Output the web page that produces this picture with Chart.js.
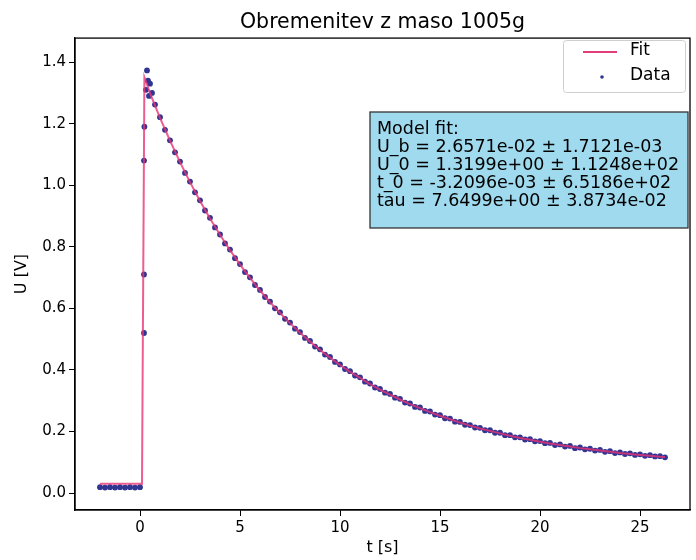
<!DOCTYPE html>
<html>
<head>
<meta charset="utf-8">
<script src="https://cdn.jsdelivr.net/npm/chart.js@4.4.1/dist/chart.umd.min.js"></script>
<style>
  html, body { margin: 0; padding: 0; background: #fff; }
  #wrap { width: 696px; height: 560px; }
</style>
</head>
<body>
<div id="wrap"><canvas id="chart" width="696" height="560"></canvas></div>
<script>
const fitT = [-2, 0.1, 0.22, 0.5, 1, 1.5, 2, 2.5, 3, 3.5, 4, 4.5, 5, 5.5, 6, 6.5, 7, 7.5, 8, 8.5, 9, 9.5, 10,
    10.5, 11, 11.5, 12, 12.5, 13, 13.5, 14, 14.5, 15, 15.5, 16, 16.5, 17, 17.5, 18, 18.5, 19, 19.5, 20,
    20.5, 21, 21.5, 22, 22.5, 23, 23.5, 24, 24.5, 25, 25.5, 26, 26.25];
const fitU = [0.03, 0.03, 1.35, 1.299, 1.219, 1.145, 1.075, 1.010, 0.949, 0.892, 0.839, 0.789, 0.742, 0.699, 0.658,
    0.620, 0.585, 0.552, 0.521, 0.492, 0.465, 0.440, 0.416, 0.394, 0.374, 0.354, 0.336, 0.320, 0.304, 0.289,
    0.276, 0.263, 0.251, 0.240, 0.229, 0.219, 0.210, 0.202, 0.194, 0.186, 0.179, 0.173, 0.167, 0.161, 0.156,
    0.151, 0.146, 0.142, 0.138, 0.134, 0.130, 0.127, 0.124, 0.121, 0.118, 0.117];

const dataT = [-2, -1.75, -1.5, -1.25, -1, -0.75, -0.5, -0.25, 0,
    0.2, 0.2, 0.2, 0.22, 0.3, 0.35, 0.4, 0.45, 0.5, 0.6, 0.75,
    1, 1.25, 1.5, 1.75, 2, 2.25, 2.5, 2.75, 3, 3.25, 3.5, 3.75, 4, 4.25, 4.5, 4.75, 5, 5.25, 5.5, 5.75,
    6, 6.25, 6.5, 6.75, 7, 7.25, 7.5, 7.75, 8, 8.25, 8.5, 8.75, 9, 9.25, 9.5, 9.75, 10, 10.25, 10.5, 10.75,
    11, 11.25, 11.5, 11.75, 12, 12.25, 12.5, 12.75, 13, 13.25, 13.5, 13.75, 14, 14.25, 14.5, 14.75,
    15, 15.25, 15.5, 15.75, 16, 16.25, 16.5, 16.75, 17, 17.25, 17.5, 17.75, 18, 18.25, 18.5, 18.75,
    19, 19.25, 19.5, 19.75, 20, 20.25, 20.5, 20.75, 21, 21.25, 21.5, 21.75, 22, 22.25, 22.5, 22.75,
    23, 23.25, 23.5, 23.75, 24, 24.25, 24.5, 24.75, 25, 25.25, 25.5, 25.75, 26, 26.25];
const dataU = [0.019, 0.018, 0.019, 0.018, 0.019, 0.018, 0.019, 0.018, 0.019,
    0.52, 0.71, 1.08, 1.19, 1.31, 1.373, 1.34, 1.29, 1.33, 1.30, 1.262,
    1.221, 1.18, 1.146, 1.107, 1.077, 1.040, 1.012, 0.977, 0.951, 0.918, 0.894, 0.863, 0.840, 0.811, 0.791, 0.763,
    0.744, 0.718, 0.701, 0.676, 0.660, 0.637, 0.622, 0.600, 0.587, 0.566, 0.554, 0.534, 0.523, 0.504, 0.494, 0.476,
    0.467, 0.450, 0.442, 0.426, 0.418, 0.403, 0.396, 0.382, 0.376, 0.362, 0.356, 0.343, 0.338, 0.326, 0.322, 0.310,
    0.306, 0.294, 0.291, 0.280, 0.278, 0.267, 0.265, 0.255, 0.253, 0.243, 0.242, 0.232, 0.231, 0.222, 0.221, 0.213,
    0.212, 0.204, 0.204, 0.196, 0.196, 0.188, 0.188, 0.181, 0.181, 0.174, 0.175, 0.168, 0.169, 0.162, 0.163, 0.156,
    0.158, 0.151, 0.153, 0.146, 0.148, 0.142, 0.144, 0.138, 0.140, 0.134, 0.136, 0.130, 0.132, 0.127, 0.129, 0.124,
    0.126, 0.121, 0.123, 0.119, 0.120, 0.116];

const xTicks = [0, 5, 10, 15, 20, 25];
const yTicks = [0, 0.2, 0.4, 0.6, 0.8, 1.0, 1.2, 1.4];
const fitLines = [
    'Model fit:',
    'U_b = 2.6571e-02 \u00b1 1.7121e-03',
    'U_0 = 1.3199e+00 \u00b1 1.1248e+02',
    't_0 = -3.2096e-03 \u00b1 6.5186e+02',
    'tau = 7.6499e+00 \u00b1 3.8734e-02'
];

const FONT = 'DejaVu Sans';
const FIT_COLOR = 'rgba(232, 52, 118, 0.8)';
const DATA_COLOR = '#2f3590';

// frame, legend and the parameter box
const extras = {
    id: 'extras',
    afterDraw(chart) {
        const { ctx, chartArea: a } = chart;
        ctx.save();
        ctx.strokeStyle = '#000';
        ctx.lineWidth = 1.3;
        ctx.strokeRect(a.left, a.top, a.right - a.left, a.bottom - a.top);

        // legend
        ctx.fillStyle = 'rgba(255,255,255,0.9)';
        ctx.strokeStyle = '#cfcfcf';
        ctx.lineWidth = 1;
        ctx.beginPath();
        ctx.roundRect(563.5, 40.5, 122, 52, 3);
        ctx.fill();
        ctx.stroke();
        ctx.strokeStyle = '#e23d78';
        ctx.lineWidth = 2;
        ctx.beginPath();
        ctx.moveTo(583, 52);
        ctx.lineTo(617, 52);
        ctx.stroke();
        ctx.fillStyle = DATA_COLOR;
        ctx.beginPath();
        ctx.arc(602, 77, 1.8, 0, Math.PI * 2);
        ctx.fill();
        ctx.fillStyle = '#000';
        ctx.font = '17px "' + FONT + '"';
        ctx.textBaseline = 'middle';
        ctx.fillText('Fit', 630, 51);
        ctx.fillText('Data', 630, 76);

        // parameter box
        ctx.fillStyle = '#9fdaee';
        ctx.strokeStyle = '#333';
        ctx.lineWidth = 1.3;
        ctx.fillRect(370, 112, 318, 116);
        ctx.strokeRect(370, 112, 318, 116);
        ctx.fillStyle = '#000';
        ctx.font = '17.5px "' + FONT + '"';
        fitLines.forEach((s, i) => ctx.fillText(s, 377, 129 + i * 18));
        ctx.restore();
    }
};

new Chart(document.getElementById('chart').getContext('2d'), {
    type: 'scatter',
    data: {
        datasets: [
            {
                label: 'Data',
                data: dataT.map((t, i) => ({ x: t, y: dataU[i] })),
                backgroundColor: DATA_COLOR,
                borderWidth: 0,
                pointRadius: 2.9,
                order: 2
            },
            {
                label: 'Fit',
                data: fitT.map((t, i) => ({ x: t, y: fitU[i] })),
                showLine: true,
                borderColor: FIT_COLOR,
                borderWidth: 2,
                pointRadius: 0,
                tension: 0,
                order: 1
            }
        ]
    },
    options: {
        responsive: false,
        animation: false,
        layout: { padding: { left: 0, right: 6, top: 0, bottom: 0 } },
        plugins: {
            legend: { display: false },
            tooltip: { enabled: false },
            title: {
                display: true,
                fullSize: false,
                text: 'Obremenitev z maso 1005g',
                color: '#000',
                font: { family: FONT, size: 20.5, weight: 'normal' },
                padding: { top: 10.5, bottom: 3 }
            }
        },
        scales: {
            x: {
                type: 'linear',
                min: -3.25,
                max: 27.5,
                afterBuildTicks: s => { s.ticks = xTicks.map(v => ({ value: v })); },
                afterFit: s => { s.height = 50; },
                grid: { drawOnChartArea: false, color: '#000', tickLength: 6 },
                border: { color: '#000', width: 1.3 },
                ticks: { color: '#000', font: { family: FONT, size: 15 }, padding: 3, maxRotation: 0 },
                title: {
                    display: true, text: 't [s]', color: '#000',
                    font: { family: FONT, size: 16 }, padding: { top: 0, bottom: 3 }
                }
            },
            y: {
                type: 'linear',
                min: -0.055,
                max: 1.478,
                afterBuildTicks: s => { s.ticks = yTicks.map(v => ({ value: v })); },
                afterFit: s => { s.width = 75; },
                grid: { drawOnChartArea: false, color: '#000', tickLength: 6 },
                border: { color: '#000', width: 1.3 },
                ticks: {
                    color: '#000', font: { family: FONT, size: 15 }, padding: 3,
                    callback: v => v.toFixed(1)
                },
                title: {
                    display: true, text: 'U [V]', color: '#000',
                    font: { family: FONT, size: 16 }, padding: { top: 12, bottom: 0 }
                }
            }
        }
    },
    plugins: [extras]
});
</script>
</body>
</html>
